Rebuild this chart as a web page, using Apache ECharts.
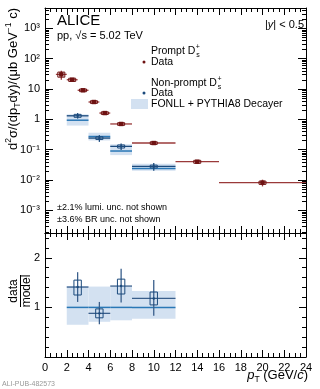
<!DOCTYPE html>
<html>
<head>
<meta charset="utf-8">
<script src="https://cdn.jsdelivr.net/npm/echarts@6/dist/echarts.min.js"></script>
<style>
  html, body { margin: 0; padding: 0; background: #fff; }
  #chart { width: 320px; height: 389px; }
</style>
</head>
<body>
<div id="chart"></div>
<script>
// prompt Ds+ cross section (ub GeV^-1 c), bins in pT (GeV/c)
var promptBinLo = [1, 2, 3, 4, 5, 6, 8, 12, 16];
var promptBinHi = [2, 3, 4, 5, 6, 8, 12, 16, 24];
var promptY = [30, 20, 9.0, 3.7, 1.6, 0.70, 0.165, 0.040, 0.0082];
var promptStat = [0.33, 0.06, 0.05, 0.05, 0.05, 0.06, 0.07, 0.12, 0.25]; // relative
var promptSyst = [0.19, 0.12, 0.10, 0.10, 0.10, 0.10, 0.10, 0.11, 0.12]; // relative

// non-prompt Ds+
var npBinLo = [2, 4, 6, 8];
var npBinHi = [4, 6, 8, 12];
var npY = [1.30, 0.24, 0.128, 0.028];
var npStatLo = [1.05, 0.18, 0.098, 0.020];
var npStatHi = [1.60, 0.30, 0.160, 0.036];
var npSystLo = [1.16, 0.215, 0.113, 0.025];
var npSystHi = [1.45, 0.265, 0.143, 0.031];

// FONLL + PYTHIA8 decayer
var fonllY = [0.93, 0.27, 0.090, 0.024];
var fonllLo = [0.62, 0.20, 0.066, 0.020];
var fonllHi = [1.45, 0.36, 0.150, 0.034];

// data / model
var ratioY = [1.41, 0.88, 1.43, 1.18];
var ratioStatLo = [1.11, 0.66, 1.10, 0.83];
var ratioStatHi = [1.71, 1.11, 1.78, 1.55];
var ratioSystLo = [1.25, 0.79, 1.27, 1.05];
var ratioSystHi = [1.55, 0.97, 1.57, 1.31];
var modelRatioY = [1, 1, 1, 1];
var modelRatioLo = [0.65, 0.71, 0.74, 0.77];
var modelRatioHi = [1.43, 1.42, 1.42, 1.33];

// log axis minor ticks (mantissa x 10^decade)
var logDecades = [-4, -3, -2, -1, 0, 1, 2, 3];
var logMantissas = [2, 3, 4, 5, 6, 7, 8, 9];

var FONT = '"Liberation Sans", Arial, sans-serif';
var RED = '#6e1212', RED_LINE = '#9a3a3a';
var BLUE = '#1b4a7c', BLUE_MODEL = '#2a78b6', BAND = '#d3e1f1';
var LOG_MIN = 1.8e-4, LOG_MAX = 4.6e3;

var supMap = { '-': '\u207b', '0': '\u2070', '1': '\u00b9', '2': '\u00b2', '3': '\u00b3' };
function logLabel(v) {
  var l = Math.log10(v), e = Math.round(l);
  if (Math.abs(l - e) > 1e-6) return '';
  if (e === 0) return '1';
  if (e === 1) return '10';
  return '10' + String(e).split('').map(function (c) { return supMap[c]; }).join('');
}

var chartDom = document.getElementById('chart');
var myChart = echarts.init(chartDom);

function xAxisCfg(grid, pos, labels) {
  return {
    type: 'value', gridIndex: grid, position: pos, min: 0, max: 24, interval: 2,
    axisLine: { onZero: false, lineStyle: { color: '#000', width: 1 } },
    axisTick: { inside: true, length: 7, lineStyle: { color: '#000' } },
    minorTick: { show: true, splitNumber: 4, length: 4, lineStyle: { color: '#000' } },
    splitLine: { show: false },
    axisLabel: { show: labels, color: '#000', fontFamily: FONT, fontSize: 11, margin: 5,
      showMinLabel: true, showMaxLabel: true }
  };
}
function logAxisCfg(grid, pos, labels) {
  return {
    type: 'log', logBase: 10, gridIndex: grid, position: pos, min: LOG_MIN, max: LOG_MAX,
    axisLine: { onZero: false, lineStyle: { color: '#000', width: 1 } },
    axisTick: { inside: true, length: 8, lineStyle: { color: '#000' } },
    splitLine: { show: false },
    axisLabel: { show: labels, color: '#000', fontFamily: FONT, fontSize: 11, margin: 5,
      formatter: logLabel }
  };
}
function ratioAxisCfg(grid, pos, labels) {
  return {
    type: 'value', gridIndex: grid, position: pos, min: 0, max: 2.5, interval: 1,
    axisLine: { onZero: false, lineStyle: { color: '#000', width: 1 } },
    axisTick: { inside: true, length: 7, lineStyle: { color: '#000' } },
    minorTick: { show: true, splitNumber: 5, length: 4, lineStyle: { color: '#000' } },
    splitLine: { show: false },
    axisLabel: { show: labels, color: '#000', fontFamily: FONT, fontSize: 11, margin: 5,
      formatter: function (v) { return (v === 1 || v === 2) ? String(v) : ''; } }
  };
}

// rows: [xlo, xhi, y, statLo, statHi, systLo, systHi]
function pointRows(lo, hi, y, sLo, sHi, bLo, bHi) {
  return y.map(function (v, i) { return [lo[i], hi[i], v, sLo[i], sHi[i], bLo[i], bHi[i]]; });
}
var promptRows = promptY.map(function (v, i) {
  return [promptBinLo[i], promptBinHi[i], v,
    v * (1 - promptStat[i]), v * (1 + promptStat[i]),
    v * (1 - promptSyst[i]), v * (1 + promptSyst[i])];
});
var npRows = pointRows(npBinLo, npBinHi, npY, npStatLo, npStatHi, npSystLo, npSystHi);
var ratioRows = pointRows(npBinLo, npBinHi, ratioY, ratioStatLo, ratioStatHi, ratioSystLo, ratioSystHi);
var fonllBand = fonllY.map(function (v, i) { return [npBinLo[i], npBinHi[i], fonllLo[i], fonllHi[i]]; });
var fonllLine = fonllY.map(function (v, i) { return [npBinLo[i], npBinHi[i], v]; });
var ratioBand = modelRatioY.map(function (v, i) { return [npBinLo[i], npBinHi[i], modelRatioLo[i], modelRatioHi[i]]; });
var ratioLine = modelRatioY.map(function (v, i) { return [npBinLo[i], npBinHi[i], v]; });

var minorTickRows = [];
logDecades.forEach(function (d) {
  logMantissas.forEach(function (m) {
    var v = m * Math.pow(10, d);
    if (v > LOG_MIN && v < LOG_MAX) minorTickRows.push([0, v]);
  });
});

function pointRender(lineColor, boxColor, markerColor, filledSquare, boxHalf) {
  return function (params, api) {
    var xlo = api.value(0), xhi = api.value(1), y = api.value(2);
    var xc = (xlo + xhi) / 2;
    var pL = api.coord([xlo, y]), pR = api.coord([xhi, y]), pC = api.coord([xc, y]);
    var sT = api.coord([xc, api.value(4)]), sB = api.coord([xc, api.value(3)]);
    var bT = api.coord([xc, api.value(6)]), bB = api.coord([xc, api.value(5)]);
    var children = [
      { type: 'line', shape: { x1: pL[0], y1: pC[1], x2: pR[0], y2: pC[1] },
        style: { stroke: lineColor, lineWidth: 1.3 } },
      { type: 'line', shape: { x1: pC[0], y1: sT[1], x2: pC[0], y2: sB[1] },
        style: { stroke: lineColor, lineWidth: 1.3 } },
      { type: 'rect', shape: { x: pC[0] - boxHalf, y: bT[1], width: boxHalf * 2, height: bB[1] - bT[1] },
        style: { fill: 'none', stroke: boxColor, lineWidth: 1 } }
    ];
    if (filledSquare) {
      children.push({ type: 'rect', shape: { x: pC[0] - 2.2, y: pC[1] - 2.2, width: 4.4, height: 4.4 },
        style: { fill: markerColor } });
    } else {
      children.push({ type: 'circle', shape: { cx: pC[0], cy: pC[1], r: 1.2 },
        style: { fill: markerColor } });
    }
    return { type: 'group', children: children };
  };
}
function bandRender(params, api) {
  var a = api.coord([api.value(0), api.value(3)]);
  var b = api.coord([api.value(1), api.value(2)]);
  return { type: 'rect', shape: { x: a[0], y: a[1], width: b[0] - a[0], height: b[1] - a[1] },
    style: { fill: BAND } };
}
function lineRender(params, api) {
  var a = api.coord([api.value(0), api.value(2)]);
  var b = api.coord([api.value(1), api.value(2)]);
  return { type: 'line', shape: { x1: a[0], y1: a[1], x2: b[0], y2: b[1] },
    style: { stroke: BLUE_MODEL, lineWidth: 1.5 } };
}
// minor ticks of the log axis, inward on both sides of the frame
function minorTickRender(params, api) {
  var l = api.coord([0, api.value(1)]);
  var r = api.coord([24, api.value(1)]);
  var y = Math.round(l[1]) + 0.5;
  return { type: 'group', children: [
    { type: 'line', shape: { x1: l[0], y1: y, x2: l[0] + 4, y2: y }, style: { stroke: '#000', lineWidth: 1 } },
    { type: 'line', shape: { x1: r[0] - 4, y1: y, x2: r[0], y2: y }, style: { stroke: '#000', lineWidth: 1 } }
  ] };
}

var measure = document.createElement('canvas').getContext('2d');
function textW(str, size) {
  measure.font = size + 'px ' + FONT;
  return measure.measureText(str).width;
}

var rich = {
  n: { fontFamily: FONT, fontSize: 13, lineHeight: 18, verticalAlign: 'middle', color: '#000' },
  i: { fontFamily: FONT, fontSize: 13, lineHeight: 18, verticalAlign: 'middle', color: '#000', fontStyle: 'italic' },
  sub: { fontFamily: FONT, fontSize: 8.5, lineHeight: 18, verticalAlign: 'bottom', color: '#000' },
  sup: { fontFamily: FONT, fontSize: 8.5, lineHeight: 18, verticalAlign: 'top', color: '#000' }
};
function txt(x, y, text, size, opts) {
  opts = opts || {};
  return {
    type: 'text', x: x, y: y, rotation: opts.rot || 0, z: 100,
    style: { text: text, fontFamily: FONT, fontSize: size, fill: opts.color || '#000',
      align: opts.align || 'left', verticalAlign: 'middle', fontStyle: opts.italic ? 'italic' : 'normal',
      rich: opts.rich }
  };
}

var legX = 151, legSize = 10.5;
var graphics = [
  txt(57, 21, 'ALICE', 15),
  txt(57, 36, 'pp, \u221As = 5.02 TeV', 11),
  txt(304, 25, '|{i|y}| < 0.5', 11, { align: 'right', rich: { i: { fontFamily: FONT, fontSize: 11, fontStyle: 'italic' } } }),
  txt(legX, 51, 'Prompt D', legSize),
  txt(legX + textW('Prompt D', legSize) + 0.5, 47, '+', 7),
  txt(legX + textW('Prompt D', legSize) + 0.8, 55, 's', 7),
  txt(legX, 62, 'Data', legSize),
  txt(legX, 83, 'Non-prompt D', legSize),
  txt(legX + textW('Non-prompt D', legSize) + 0.5, 79, '+', 7),
  txt(legX + textW('Non-prompt D', legSize) + 0.8, 87, 's', 7),
  txt(legX, 93, 'Data', legSize),
  txt(legX, 104, 'FONLL + PYTHIA8 Decayer', legSize),
  { type: 'circle', shape: { cx: 144, cy: 62, r: 1.5 }, style: { fill: RED }, z: 100 },
  { type: 'circle', shape: { cx: 144, cy: 93, r: 1.5 }, style: { fill: BLUE }, z: 100 },
  { type: 'rect', shape: { x: 131, y: 99, width: 17, height: 10 }, style: { fill: BAND }, z: 100 },
  txt(57, 208, '\u00b12.1% lumi. unc. not shown', 9),
  txt(57, 220, '\u00b13.6% BR unc. not shown', 9),
  // y title, reads bottom to top
  txt(13, 8, '{n|d}{sup|2}{n|\u03c3/(dp}{sub|T}{n|dy)/(\u03bcb GeV}{sup|\u22121}{n| c)}', 13,
    { rot: Math.PI / 2, align: 'right', rich: rich }),
  // x title
  txt(308, 375, '{i|p}{sub|T}{n| (GeV/}{i|c}{n|)}', 13, { align: 'right', rich: rich }),
  // ratio title
  txt(14, 291, 'data', 12, { rot: Math.PI / 2, align: 'center' }),
  txt(27, 291, 'model', 12, { rot: Math.PI / 2, align: 'center' }),
  { type: 'line', shape: { x1: 20.5, y1: 275, x2: 20.5, y2: 307 }, style: { stroke: '#000', lineWidth: 1 }, z: 100 },
  txt(2, 384, 'ALI-PUB-482573', 7, { color: '#999' })
];

var option = {
  animation: false,
  backgroundColor: '#fff',
  grid: [
    { left: 45, top: 8, width: 261, height: 225 },
    { left: 45, top: 233, width: 261, height: 124 }
  ],
  xAxis: [
    xAxisCfg(0, 'bottom', false), xAxisCfg(0, 'top', false),
    xAxisCfg(1, 'bottom', true), xAxisCfg(1, 'top', false)
  ],
  yAxis: [
    logAxisCfg(0, 'left', true), logAxisCfg(0, 'right', false),
    ratioAxisCfg(1, 'left', true), ratioAxisCfg(1, 'right', false)
  ],
  graphic: graphics,
  series: [
    { type: 'custom', name: 'log minor ticks', xAxisIndex: 0, yAxisIndex: 0, z: 5, silent: true,
      renderItem: minorTickRender, data: minorTickRows, encode: { x: 0, y: 1 } },
    { type: 'custom', name: 'FONLL band', xAxisIndex: 0, yAxisIndex: 0, z: 1,
      renderItem: bandRender, data: fonllBand, encode: { x: [0, 1], y: [2, 3] } },
    { type: 'custom', name: 'FONLL', xAxisIndex: 0, yAxisIndex: 0, z: 2,
      renderItem: lineRender, data: fonllLine, encode: { x: [0, 1], y: 2 } },
    { type: 'custom', name: 'Prompt', xAxisIndex: 0, yAxisIndex: 0, z: 3,
      renderItem: pointRender(RED_LINE, RED, RED, true, 3.5), data: promptRows,
      encode: { x: [0, 1], y: [2, 3, 4, 5, 6] } },
    { type: 'custom', name: 'Non-prompt', xAxisIndex: 0, yAxisIndex: 0, z: 4,
      renderItem: pointRender(BLUE, BLUE, BLUE, false, 3.5), data: npRows,
      encode: { x: [0, 1], y: [2, 3, 4, 5, 6] } },
    { type: 'custom', name: 'Model band ratio', xAxisIndex: 2, yAxisIndex: 2, z: 1,
      renderItem: bandRender, data: ratioBand, encode: { x: [0, 1], y: [2, 3] } },
    { type: 'custom', name: 'Model ratio', xAxisIndex: 2, yAxisIndex: 2, z: 2,
      renderItem: lineRender, data: ratioLine, encode: { x: [0, 1], y: 2 } },
    { type: 'custom', name: 'Ratio', xAxisIndex: 2, yAxisIndex: 2, z: 4,
      renderItem: pointRender('#3a5f8c', BLUE, BLUE, false, 3.7), data: ratioRows,
      encode: { x: [0, 1], y: [2, 3, 4, 5, 6] } }
  ]
};
option && myChart.setOption(option);
</script>
</body>
</html>
